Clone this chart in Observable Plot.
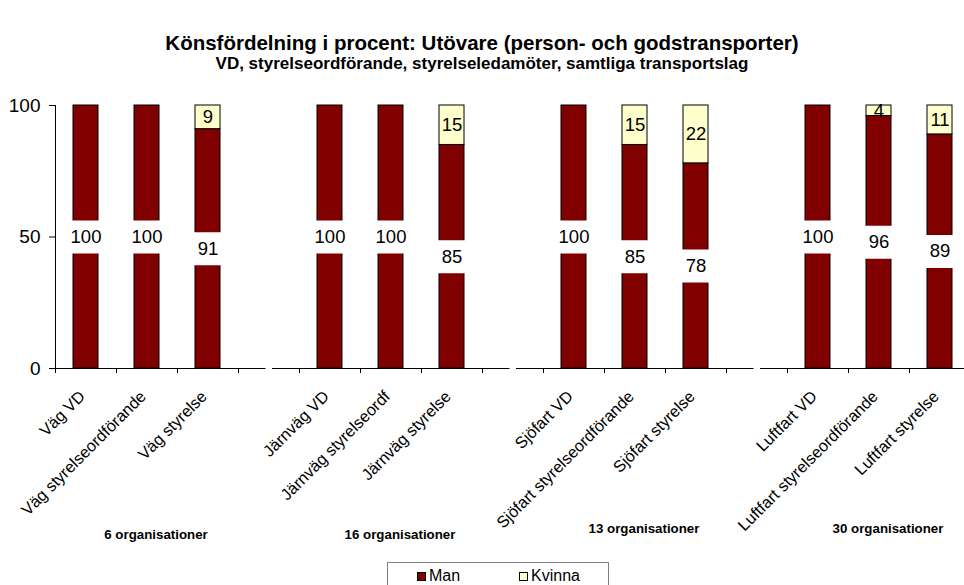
<!DOCTYPE html>
<html><head><meta charset="utf-8">
<script src="https://cdn.jsdelivr.net/npm/d3@7"></script>
<script src="https://cdn.jsdelivr.net/npm/@observablehq/plot@0.6"></script>
<style>
body{margin:0;background:#fff;font-family:"Liberation Sans",Arial,sans-serif;width:964px;height:585px;overflow:hidden;color:#000;}
#header{position:relative;height:80px;}
#title{position:absolute;left:0;width:964px;top:31px;text-align:center;font-weight:bold;font-size:20.5px;line-height:24px;}
#subtitle{position:absolute;left:0;width:964px;top:54px;text-align:center;font-weight:bold;font-size:17px;line-height:20px;}
#legend{position:relative;margin:7px 0 0 387px;width:220px;height:30px;border:1px solid #808080;}
.li{position:absolute;top:3px;font-size:16px;line-height:20px;white-space:nowrap;}
.sw{display:inline-block;width:7px;height:7px;border:1px solid #000;margin-right:3px;vertical-align:0px;}
svg{display:block;}
</style></head>
<body>
<div id="header"><div id="title"></div><div id="subtitle"></div></div>
<div id="chart"></div>
<div id="legend"></div>
<script>
const titleText = "Könsfördelning i procent: Utövare (person- och godstransporter)";
const subtitleText = "VD, styrelseordförande, styrelseledamöter, samtliga transportslag";
const categories = ["Väg VD", "Väg styrelseordförande", "Väg styrelse",
  "Järnväg VD", "Järnväg styrelseordf", "Järnväg styrelse",
  "Sjöfart VD", "Sjöfart styrelseordförande", "Sjöfart styrelse",
  "Luftfart VD", "Luftfart styrelseordförande", "Luftfart styrelse"];
const man = [100, 100, 91, 100, 100, 85, 100, 85, 78, 100, 96, 89];
const kvinna = [0, 0, 9, 0, 0, 15, 0, 15, 22, 0, 4, 11];
const groupLabels = ["6 organisationer", "16 organisationer", "13 organisationer", "30 organisationer"];
const sexes = ["Man", "Kvinna"];
const colors = ["#800000", "#FFFFCC"];
const yTicks = [0, 50, 100];

document.getElementById("title").textContent = titleText;
document.getElementById("subtitle").textContent = subtitleText;

// slots: 3 categories per group, followed by an empty spacer slot
const slots = [];
const labelOf = new Map();
categories.forEach((c, i) => {
  slots.push(c); labelOf.set(c, c);
  if (i % 3 === 2 && i < categories.length - 1) {
    const g = "gap" + ((i + 1) / 3);
    slots.push(g); labelOf.set(g, "");
  }
});
const gaps = slots.filter(s => s.startsWith("gap"));
const rows = categories.map((c, i) => ({cat: c, man: man[i], kvinna: kvinna[i]}));
const stacked = [
  ...rows.map(r => ({cat: r.cat, sex: "Man", value: r.man})),
  ...rows.map(r => ({cat: r.cat, sex: "Kvinna", value: r.kvinna}))
].filter(d => d.value > 0);
const groupRows = groupLabels.map((t, g) => ({text: t, cat: categories[g * 3 + 1], g}));

const W = 964, H = 475, ML = 55, MT = 25, MB = 187, XR = 970;
const step = (XR - ML) / slots.length;
const pIn = 0.59, pOut = pIn / 2;
const bw = step * (1 - pIn);
const gapHalf = 3;

const firstSeg = [{from: slots[0], to: gaps[0]}];
const midSegs = [{from: gaps[0], to: gaps[1]}, {from: gaps[1], to: gaps[2]}];
const lastSeg = [{from: gaps[2], to: slots[slots.length - 1]}];

const chart = Plot.plot({
  width: W, height: H,
  marginLeft: ML, marginRight: 0, marginTop: MT, marginBottom: MB,
  style: {fontFamily: "'Liberation Sans', Arial, sans-serif", fontSize: "16px", color: "black", background: "white", overflow: "visible"},
  x: {type: "band", domain: slots, range: [ML, XR], paddingInner: pIn, paddingOuter: pOut, axis: null},
  y: {domain: [0, 100], axis: null},
  color: {domain: sexes, range: colors},
  marks: [
    Plot.axisY({ticks: yTicks, tickSize: 6, tickPadding: 9, fontSize: 19, label: null}),
    Plot.ruleX([slots[0]], {x: d => d, y1: () => 0, y2: () => 100, dx: -step / 2, stroke: "black"}),
    Plot.barY(stacked, {x: "cat", y: "value", fill: "sex", stroke: "black", strokeWidth: 1, order: sexes}),
    Plot.dot(rows, {x: "cat", y: d => d.man / 2, symbol: "square", r: 18.6, fill: "white", stroke: null}),
    Plot.text(rows, {x: "cat", y: d => d.man / 2, text: d => String(d.man), fontSize: 18.5, fill: "black"}),
    Plot.text(rows.filter(d => d.kvinna > 0), {x: "cat", y: d => d.man + d.kvinna / 2, text: d => String(d.kvinna), fontSize: 18.5, fill: "black"}),
    Plot.ruleY(firstSeg, {x1: "from", x2: "to", y: () => 0, insetLeft: -step * pOut, insetRight: bw / 2 + gapHalf, stroke: "black"}),
    Plot.ruleY(midSegs, {x1: "from", x2: "to", y: () => 0, insetLeft: bw / 2 + gapHalf + 0.5, insetRight: bw / 2 + gapHalf, stroke: "black"}),
    Plot.ruleY(lastSeg, {x1: "from", x2: "to", y: () => 0, insetLeft: bw / 2 + gapHalf + 0.5, insetRight: -20, stroke: "black"}),
    Plot.axisX({ticks: slots, tickSize: 5, tickFormat: () => "", dx: -step / 2, label: null}),
    Plot.text(slots, {x: d => d, text: d => labelOf.get(d), frameAnchor: "bottom", rotate: -45, textAnchor: "end", lineAnchor: "bottom", dy: 29, fontSize: 16.3, fill: "black"}),
    Plot.text(groupRows.filter(d => d.g < 2), {x: "cat", text: "text", frameAnchor: "bottom", dy: 170, dx: 9, fontWeight: "bold", fontSize: 13.3, fill: "black"}),
    Plot.text(groupRows.filter(d => d.g >= 2), {x: "cat", text: "text", frameAnchor: "bottom", dy: 164, dx: 9, fontWeight: "bold", fontSize: 13.3, fill: "black"})
  ]
});
document.getElementById("chart").appendChild(chart);

const legend = document.getElementById("legend");
const legendLeft = [29, 131];
sexes.forEach((s, i) => {
  const item = document.createElement("span");
  item.className = "li";
  item.style.left = legendLeft[i] + "px";
  const sw = document.createElement("span");
  sw.className = "sw";
  sw.style.background = colors[i];
  item.appendChild(sw);
  item.appendChild(document.createTextNode(s));
  legend.appendChild(item);
});
</script>
</body></html>
